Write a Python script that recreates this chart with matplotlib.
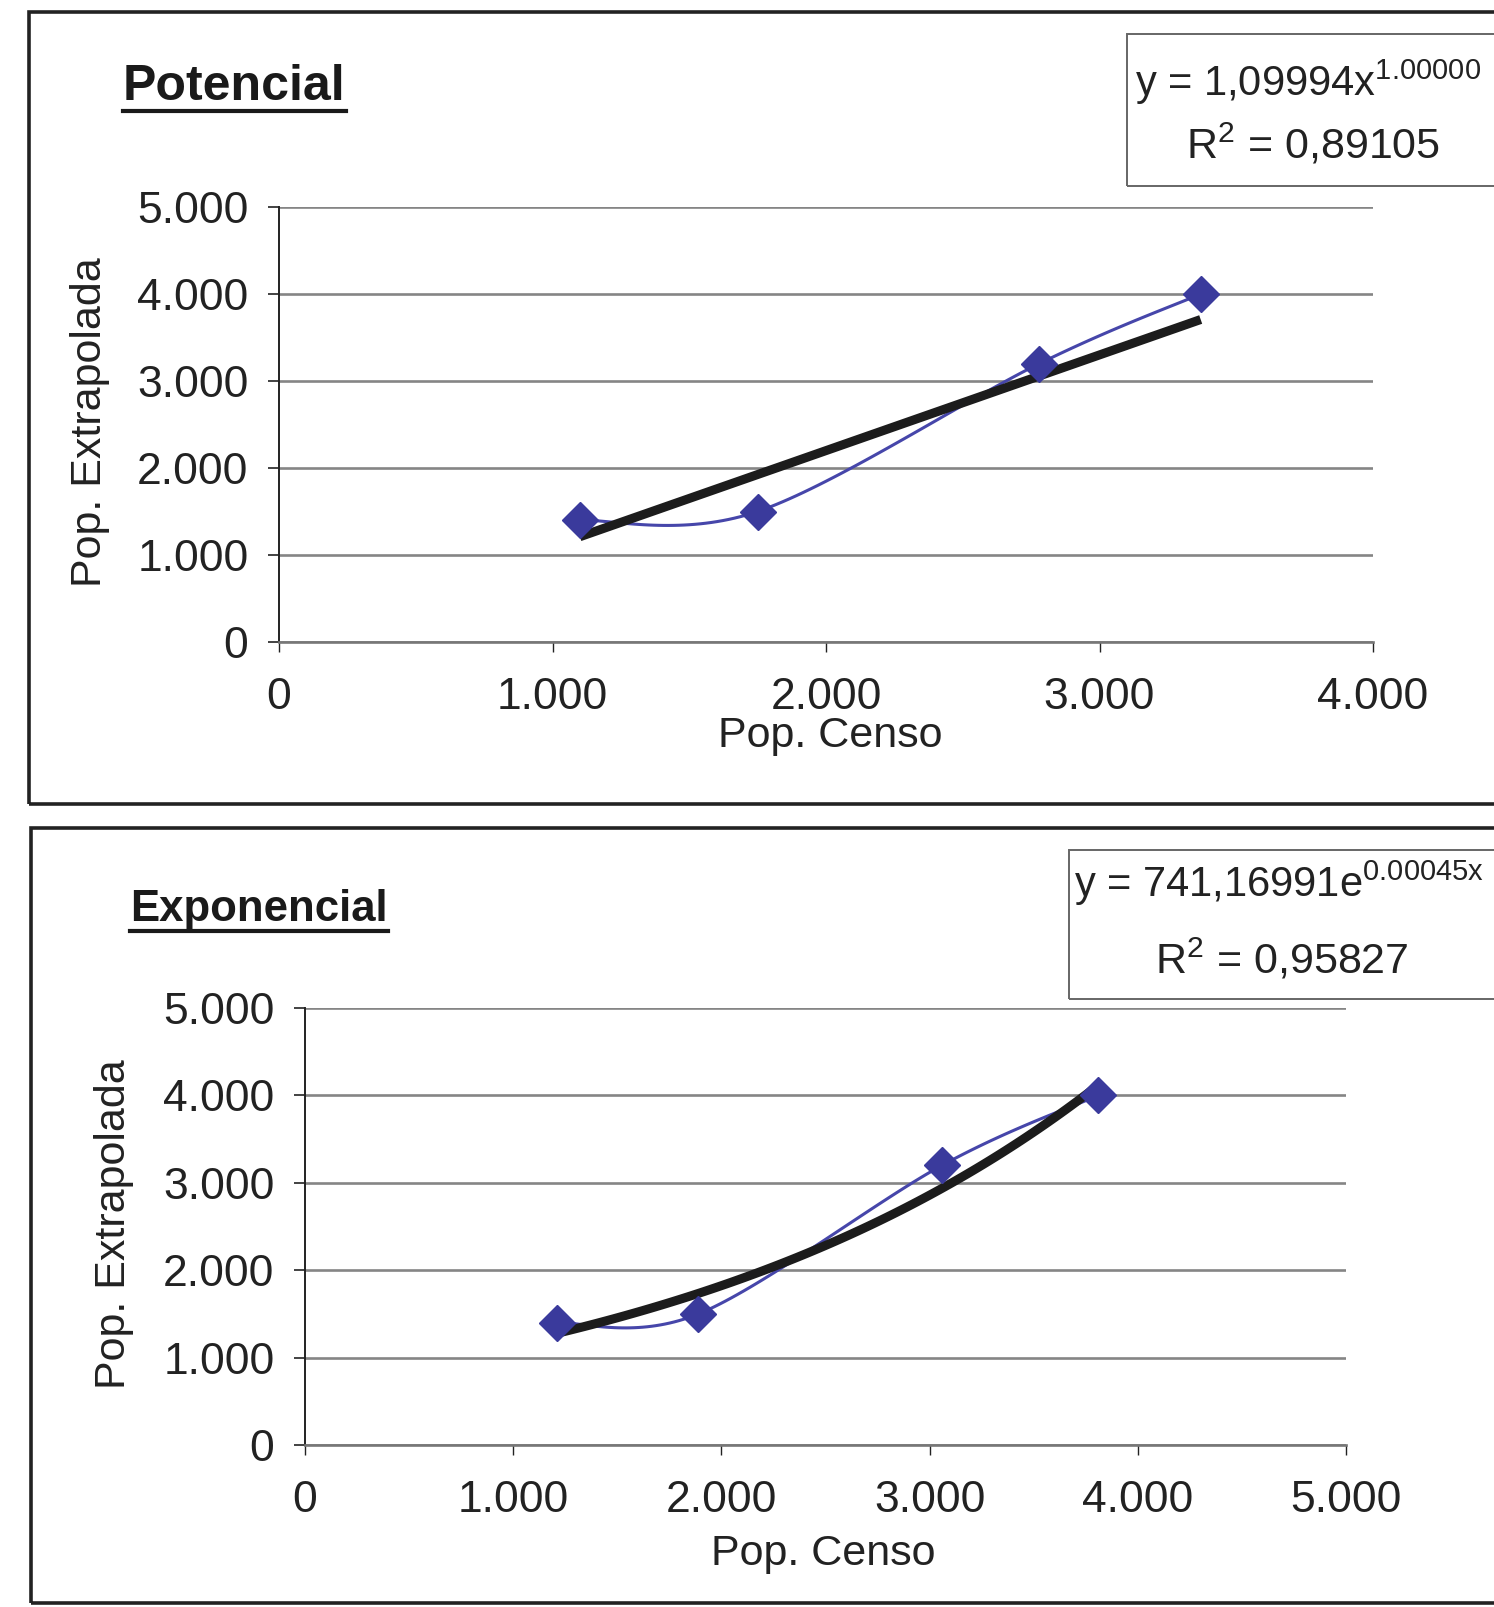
import matplotlib
matplotlib.use("Agg")
import matplotlib.pyplot as plt
import numpy as np
from matplotlib.patches import Rectangle
from matplotlib.lines import Line2D
from matplotlib.ticker import FuncFormatter, MultipleLocator

plt.rcParams['font.family'] = ['Liberation Sans', 'DejaVu Sans']
plt.rcParams['mathtext.fontset'] = 'custom'
plt.rcParams['mathtext.rm'] = 'Liberation Sans'
plt.rcParams['mathtext.it'] = 'Liberation Sans'

# --- data ---
pop_extrap = [1400, 1500, 3200, 4000]

pot_censo = [1100, 1750, 2780, 3370]
pot_a, pot_b = 1.09994, 1.00000
pot_eq = "y = 1,09994x$^{\\mathrm{1.00000}}$"
pot_r2 = "R$^{\\mathrm{2}}$ = 0,89105"

exp_censo = [1210, 1890, 3060, 3810]
exp_a, exp_b = 741.16991, 0.00045
exp_eq = "y = 741,16991e$^{\\mathrm{0.00045x}}$"
exp_r2 = "R$^{\\mathrm{2}}$ = 0,95827"

W, H = 1494, 1607
fig = plt.figure(figsize=(W / 100, H / 100), dpi=100)
fig.patch.set_facecolor("white")

def fx(px):
    return px / W

def fy(py):
    return 1 - py / H

def axes_box(l, t, r, b):
    return fig.add_axes([fx(l), fy(b), (r - l) / W, (b - t) / H])

def smooth(x, y, n=40):
    # Excel-like smoothed line: Catmull-Rom as cubic Bezier segments
    x = np.asarray(x, float)
    y = np.asarray(y, float)
    px = np.r_[x[0], x, x[-1]]
    py = np.r_[y[0], y, y[-1]]
    t = np.linspace(0, 1, n)[:, None]
    xs, ys = [], []
    for i in range(1, len(px) - 2):
        p0 = np.array([px[i], py[i]])
        p3 = np.array([px[i + 1], py[i + 1]])
        c1 = p0 + (p3 - np.array([px[i - 1], py[i - 1]])) / 6
        c2 = p3 - (np.array([px[i + 2], py[i + 2]]) - p0) / 6
        seg = ((1 - t) ** 3) * p0 + 3 * ((1 - t) ** 2) * t * c1 + 3 * (1 - t) * t ** 2 * c2 + t ** 3 * p3
        xs.append(seg[:, 0])
        ys.append(seg[:, 1])
    return np.concatenate(xs), np.concatenate(ys)

thousands = FuncFormatter(lambda v, p: f"{int(v):,}".replace(",", "."))

def panel(ax, xs, trend, xmax, xlab_pos, ylab_pos):
    ax.set_xlim(0, xmax)
    ax.set_ylim(0, 5000)
    ax.yaxis.set_major_locator(MultipleLocator(1000))
    ax.xaxis.set_major_locator(MultipleLocator(1000))
    ax.xaxis.set_major_formatter(thousands)
    ax.yaxis.set_major_formatter(thousands)
    ax.grid(axis="y", color="#858585", lw=1.9)
    ax.set_axisbelow(True)
    for s in ("top", "right"):
        ax.spines[s].set_visible(False)
    ax.spines["left"].set_color("#222222")
    ax.spines["left"].set_linewidth(1.4)
    ax.spines["bottom"].set_color("#777777")
    ax.spines["bottom"].set_linewidth(1.9)
    ax.tick_params(axis="y", direction="out", length=8, width=1.2, pad=14,
                   labelsize=32, colors="#222222")
    ax.tick_params(axis="x", direction="out", length=7, width=1.0, pad=18,
                   labelsize=32, colors="#222222")
    sx, sy = smooth(xs, pop_extrap)
    ax.plot(sx, sy, color="#4646aa", lw=2.2, zorder=3)
    tx = np.linspace(xs[0], xs[-1], 100)
    ax.plot(tx, trend(tx), color="#1c1c1c", lw=6.5, solid_capstyle="butt", zorder=4)
    ax.plot(xs, pop_extrap, ls="none", marker="D", ms=18, color="#3a3a9c", zorder=5)
    ax.set_xlabel("Pop. Censo", fontsize=31, color="#222222")
    ax.xaxis.set_label_coords(*xlab_pos)
    ax.xaxis.label.set_va("center")
    ax.set_ylabel("Pop. Extrapolada", fontsize=31, color="#222222")
    ax.yaxis.set_label_coords(*ylab_pos)
    ax.yaxis.label.set_va("center")

# panel frames
fig.patches.append(Rectangle((fx(29), fy(804)), 1.2, (804 - 12) / H, transform=fig.transFigure,
                             fill=False, ec="#222222", lw=2.6, clip_on=False))
fig.patches.append(Rectangle((fx(31), fy(1603)), 1.2, (1603 - 828) / H, transform=fig.transFigure,
                             fill=False, ec="#222222", lw=2.6, clip_on=False))
# equation boxes
fig.patches.append(Rectangle((fx(1127), fy(186)), 1.0, (186 - 34) / H, transform=fig.transFigure,
                             fill=False, ec="#666666", lw=1.4, clip_on=False))
fig.patches.append(Rectangle((fx(1069), fy(999)), 1.0, (999 - 850) / H, transform=fig.transFigure,
                             fill=False, ec="#666666", lw=1.4, clip_on=False))

ax1 = axes_box(279, 207, 1373, 642)
panel(ax1, pot_censo, lambda x: pot_a * x ** pot_b, 4000, (0.504, -0.216), (-0.173, 0.506))

ax2 = axes_box(305, 1008, 1346, 1445)
panel(ax2, exp_censo, lambda x: exp_a * np.exp(exp_b * x), 5000, (0.498, -0.249), (-0.183, 0.506))

# titles with underline
renderer = fig.canvas.get_renderer()
for txt, size, x0, yc, yu in [("Potencial", 36, 123, 87, 111), ("Exponencial", 31.5, 130, 910, 931)]:
    t = fig.text(fx(x0), fy(yc), txt, fontsize=size, fontweight="bold", ha="left", va="center",
                 color="#1a1a1a")
    bb = t.get_window_extent(renderer)
    fig.lines.append(Line2D([bb.x0 / W, bb.x1 / W], [fy(yu), fy(yu)], transform=fig.transFigure,
                            color="#1a1a1a", lw=3.0))

# trendline equations
fig.text(fx(1135), fy(82), pot_eq, fontsize=30, ha="left", va="center", color="#222222")
fig.text(fx(1313), fy(145), pot_r2, fontsize=31, ha="center", va="center", color="#222222")
fig.text(fx(1074), fy(883), exp_eq, fontsize=30, ha="left", va="center", color="#222222")
fig.text(fx(1282), fy(960), exp_r2, fontsize=31, ha="center", va="center", color="#222222")

fig.savefig("out.png", dpi=100, facecolor="white")
